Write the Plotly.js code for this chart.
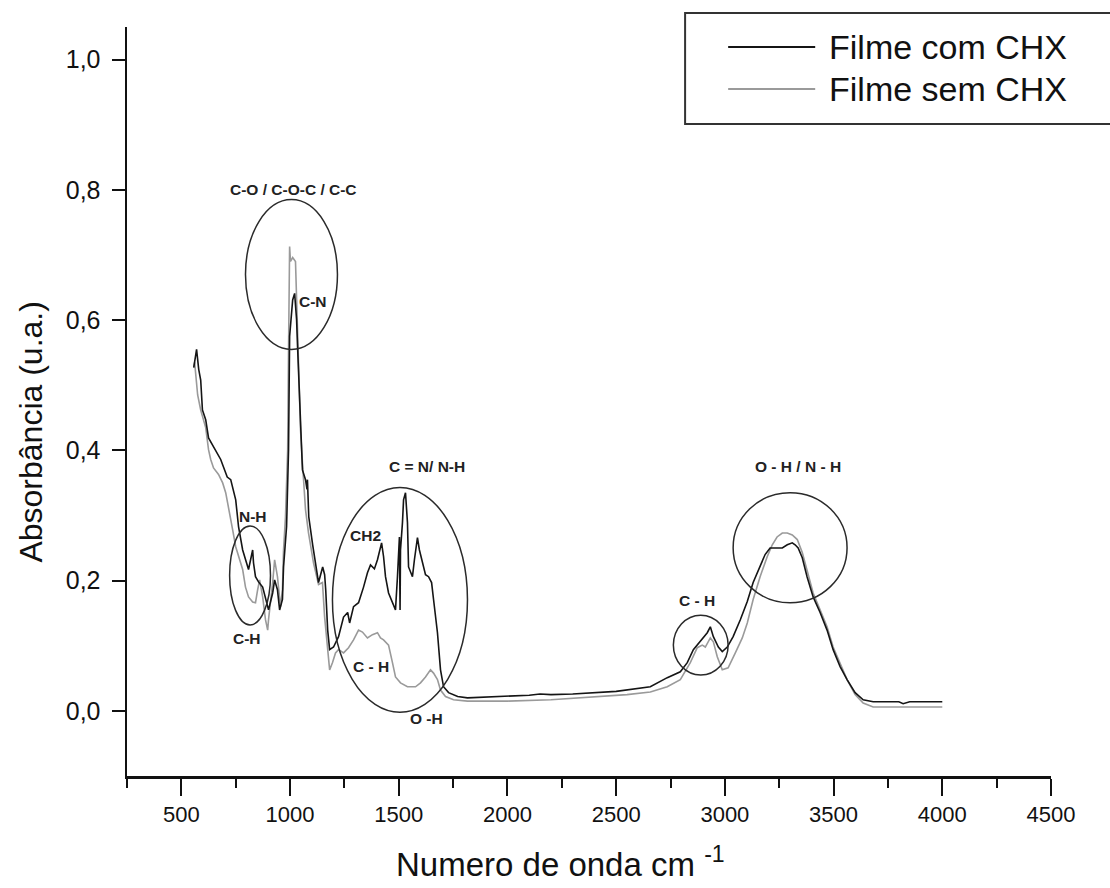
<!DOCTYPE html>
<html>
<head>
<meta charset="utf-8">
<script src="https://cdn.plot.ly/plotly-3.0.1.min.js"></script>
<style>
  html, body { margin: 0; padding: 0; background: #fff; }
  #chart { width: 1110px; height: 888px; }
</style>
</head>
<body>
<div id="chart"></div>
<script>
// FTIR spectra of the chitosan films, with and without chlorhexidine (CHX)
var seriesNames = ['Filme com CHX', 'Filme sem CHX'];

// Film with CHX: wavenumber (cm-1) and absorbance
var comWavenumber = [557, 570, 580, 589, 597, 612, 625, 648, 681, 711, 727, 750, 763, 782, 795, 809, 828, 832, 841, 855,
  874, 887, 901, 920, 929, 942, 952, 965, 970, 984, 993, 998, 1012, 1021, 1030, 1035, 1044, 1048, 1057, 1071,
  1078, 1080, 1086, 1104, 1118, 1131, 1150, 1159, 1164, 1173, 1182, 1200, 1223, 1246, 1265, 1274, 1292, 1315, 1338, 1356,
  1370, 1388, 1402, 1421, 1430, 1439, 1453, 1471, 1485, 1494, 1499, 1503, 1506, 1508, 1517, 1522, 1531, 1540, 1545, 1563,
  1572, 1586, 1595, 1609, 1623, 1637, 1651, 1660, 1678, 1692, 1706, 1729, 1771, 1816, 1900, 2000, 2100, 2150, 2200, 2300,
  2400, 2500, 2657, 2735, 2795, 2827, 2855, 2878, 2900, 2919, 2933, 2947, 2970, 2988, 3011, 3038, 3071, 3103, 3130, 3162,
  3185, 3208, 3222, 3240, 3264, 3287, 3310, 3323, 3337, 3356, 3378, 3406, 3438, 3470, 3498, 3530, 3562, 3599, 3636, 3682,
  3800, 3820, 3850, 3900, 4000];
var comAbsorbance = [0.527, 0.555, 0.524, 0.508, 0.462, 0.447, 0.419, 0.406, 0.386, 0.359, 0.355, 0.324, 0.283, 0.247, 0.232, 0.217, 0.247, 0.227, 0.206, 0.198,
  0.190, 0.171, 0.155, 0.181, 0.201, 0.186, 0.155, 0.171, 0.221, 0.283, 0.401, 0.575, 0.631, 0.641, 0.601, 0.555, 0.478, 0.432, 0.370, 0.355,
  0.340, 0.355, 0.298, 0.255, 0.227, 0.197, 0.221, 0.209, 0.186, 0.124, 0.094, 0.098, 0.114, 0.144, 0.151, 0.135, 0.160, 0.166, 0.190, 0.212,
  0.224, 0.218, 0.232, 0.258, 0.237, 0.206, 0.181, 0.166, 0.155, 0.206, 0.252, 0.267, 0.155, 0.247, 0.289, 0.324, 0.335, 0.289, 0.221, 0.206,
  0.232, 0.266, 0.247, 0.227, 0.209, 0.206, 0.197, 0.171, 0.120, 0.063, 0.037, 0.028, 0.022, 0.020, 0.021, 0.022, 0.024, 0.026, 0.025, 0.026,
  0.028, 0.030, 0.037, 0.051, 0.060, 0.074, 0.094, 0.104, 0.112, 0.120, 0.129, 0.114, 0.098, 0.091, 0.098, 0.114, 0.140, 0.168, 0.197, 0.221,
  0.240, 0.250, 0.250, 0.249, 0.250, 0.255, 0.258, 0.255, 0.250, 0.235, 0.206, 0.175, 0.151, 0.124, 0.094, 0.068, 0.048, 0.028, 0.017, 0.014,
  0.014, 0.011, 0.014, 0.014, 0.014];

// Film without CHX: wavenumber (cm-1) and absorbance
var semWavenumber = [557, 561, 575, 589, 612, 625, 635, 648, 671, 690, 704, 717, 727, 736, 750, 763, 782, 795, 809, 828,
  841, 851, 860, 874, 887, 897, 901, 920, 929, 942, 947, 956, 965, 970, 979, 984, 989, 993, 998, 1002,
  1012, 1025, 1030, 1035, 1039, 1048, 1057, 1062, 1071, 1085, 1108, 1131, 1149, 1159, 1173, 1182, 1195, 1209, 1223, 1246,
  1269, 1292, 1315, 1333, 1356, 1379, 1402, 1416, 1430, 1453, 1471, 1485, 1508, 1540, 1577, 1600, 1623, 1646, 1660, 1678,
  1692, 1715, 1752, 1816, 1900, 2000, 2200, 2400, 2550, 2657, 2735, 2795, 2841, 2873, 2896, 2910, 2933, 2947, 2965, 2988,
  3015, 3048, 3080, 3103, 3130, 3162, 3195, 3218, 3240, 3264, 3287, 3310, 3333, 3356, 3378, 3406, 3438, 3470, 3498, 3530,
  3562, 3599, 3636, 3682, 3800, 3900, 4000];
var semAbsorbance = [0.528, 0.535, 0.485, 0.462, 0.435, 0.401, 0.386, 0.373, 0.363, 0.350, 0.335, 0.313, 0.298, 0.278, 0.252, 0.237, 0.217, 0.190, 0.175, 0.167,
  0.166, 0.186, 0.201, 0.175, 0.140, 0.124, 0.140, 0.197, 0.232, 0.206, 0.186, 0.160, 0.186, 0.247, 0.298, 0.350, 0.401, 0.555, 0.713, 0.690,
  0.696, 0.690, 0.636, 0.555, 0.504, 0.432, 0.381, 0.355, 0.309, 0.273, 0.227, 0.194, 0.197, 0.144, 0.094, 0.063, 0.074, 0.089, 0.094, 0.089,
  0.097, 0.109, 0.124, 0.121, 0.112, 0.117, 0.120, 0.112, 0.109, 0.101, 0.074, 0.052, 0.043, 0.037, 0.037, 0.043, 0.052, 0.063, 0.058, 0.048,
  0.032, 0.022, 0.017, 0.015, 0.015, 0.015, 0.017, 0.021, 0.025, 0.029, 0.037, 0.048, 0.074, 0.097, 0.101, 0.098, 0.112, 0.106, 0.083, 0.063,
  0.066, 0.089, 0.112, 0.135, 0.171, 0.206, 0.237, 0.255, 0.267, 0.273, 0.273, 0.270, 0.263, 0.243, 0.217, 0.181, 0.155, 0.129, 0.098, 0.074,
  0.048, 0.025, 0.012, 0.006, 0.006, 0.005, 0.006];

// Band assignments written on the plot
var bandLabels = ['C-O / C-O-C / C-C', 'C-N', 'N-H', 'C-H', 'CH2', 'C = N/ N-H', 'C - H', 'O -H', 'C - H', 'O - H / N - H'];
var bandLabelX = [1016, 1030, 829, 801, 1347, 1628, 1370, 1628, 2874, 3338];
var bandLabelY = [0.800, 0.628, 0.298, 0.111, 0.270, 0.375, 0.068, -0.011, 0.169, 0.375];

// Rings drawn round each band region: [x0, x1, y0, y1]
var bandRings = [
  [795, 1218, 0.555, 0.785],
  [722, 910, 0.132, 0.284],
  [1195, 1816, -0.002, 0.343],
  [2763, 3015, 0.055, 0.147],
  [3038, 3562, 0.166, 0.335]
];

var comColor = '#151515';
var semColor = '#9a9a9a';
var fontFamily = 'Liberation Sans, Arial, sans-serif';

var traces = [
  { x: semWavenumber, y: semAbsorbance, name: seriesNames[1], type: 'scatter', mode: 'lines',
    line: { color: semColor, width: 1.6 }, showlegend: false },
  { x: comWavenumber, y: comAbsorbance, name: seriesNames[0], type: 'scatter', mode: 'lines',
    line: { color: comColor, width: 1.6 }, showlegend: false }
];

var shapes = bandRings.map(function (r) {
  return { type: 'circle', xref: 'x', yref: 'y', x0: r[0], x1: r[1], y0: r[2], y1: r[3],
    line: { color: '#2a2a2a', width: 1.5 } };
});

// Key box with its two line samples
shapes.push({ type: 'rect', xref: 'paper', yref: 'paper', x0: 0.604, x1: 1.07, y0: 0.8705, y1: 1.0187,
  line: { color: '#333', width: 2 }, fillcolor: 'rgba(0,0,0,0)' });
shapes.push({ type: 'line', xref: 'paper', yref: 'paper', x0: 0.6506, x1: 0.7448, y0: 0.9733, y1: 0.9733,
  line: { color: comColor, width: 2 } });
shapes.push({ type: 'line', xref: 'paper', yref: 'paper', x0: 0.6506, x1: 0.7448, y0: 0.9172, y1: 0.9172,
  line: { color: semColor, width: 2 } });

var annotations = bandLabels.map(function (t, i) {
  return { text: t, x: bandLabelX[i], y: bandLabelY[i], xref: 'x', yref: 'y', showarrow: false,
    xanchor: i === 1 ? 'left' : 'center', yanchor: 'middle',
    font: { family: fontFamily, size: 15.5, color: '#222', weight: 'bold' } };
});

// Key entries
annotations.push({ text: seriesNames[0], xref: 'paper', yref: 'paper', x: 0.7577, y: 0.9733,
  xanchor: 'left', yanchor: 'middle', showarrow: false,
  font: { family: fontFamily, size: 34, color: '#111' } });
annotations.push({ text: seriesNames[1], xref: 'paper', yref: 'paper', x: 0.7577, y: 0.9172,
  xanchor: 'left', yanchor: 'middle', showarrow: false,
  font: { family: fontFamily, size: 34, color: '#111' } });

// Axis titles
annotations.push({ text: 'Numero de onda cm <sup>-1</sup>', xref: 'paper', yref: 'paper', x: 0.469, y: -0.115,
  xanchor: 'center', yanchor: 'middle', showarrow: false,
  font: { family: fontFamily, size: 33, color: '#111' } });
annotations.push({ text: 'Absorbância (u.a.)', xref: 'paper', yref: 'paper', x: -0.1035, y: 0.459,
  xanchor: 'center', yanchor: 'middle', textangle: -90, showarrow: false,
  font: { family: fontFamily, size: 32, color: '#111' } });

var layout = {
  width: 1110, height: 888,
  margin: { l: 127, r: 59, t: 27, b: 112, pad: 0 },
  paper_bgcolor: '#fff', plot_bgcolor: '#fff',
  separators: ',.',
  showlegend: false,
  xaxis: {
    range: [250, 4500], tick0: 0, dtick: 500,
    showline: true, linecolor: '#111', linewidth: 2.5,
    ticks: 'outside', ticklen: 17, tickwidth: 2, tickcolor: '#111',
    minor: { ticks: 'outside', tick0: 250, dtick: 250, ticklen: 9, tickwidth: 2, tickcolor: '#111', showgrid: false },
    showgrid: false, zeroline: false,
    tickfont: { family: fontFamily, size: 22, color: '#111' }
  },
  yaxis: {
    range: [-0.1, 1.05], tick0: 0, dtick: 0.2, tickformat: '.1f',
    showline: true, linecolor: '#111', linewidth: 2.5,
    ticks: 'outside', ticklen: 13, tickwidth: 2, tickcolor: '#111',
    showgrid: false, zeroline: false, ticklabelstandoff: 6,
    tickfont: { family: fontFamily, size: 25, color: '#111' }
  },
  shapes: shapes,
  annotations: annotations
};

Plotly.newPlot('chart', traces, layout, { staticPlot: true, displayModeBar: false });
</script>
</body>
</html>
